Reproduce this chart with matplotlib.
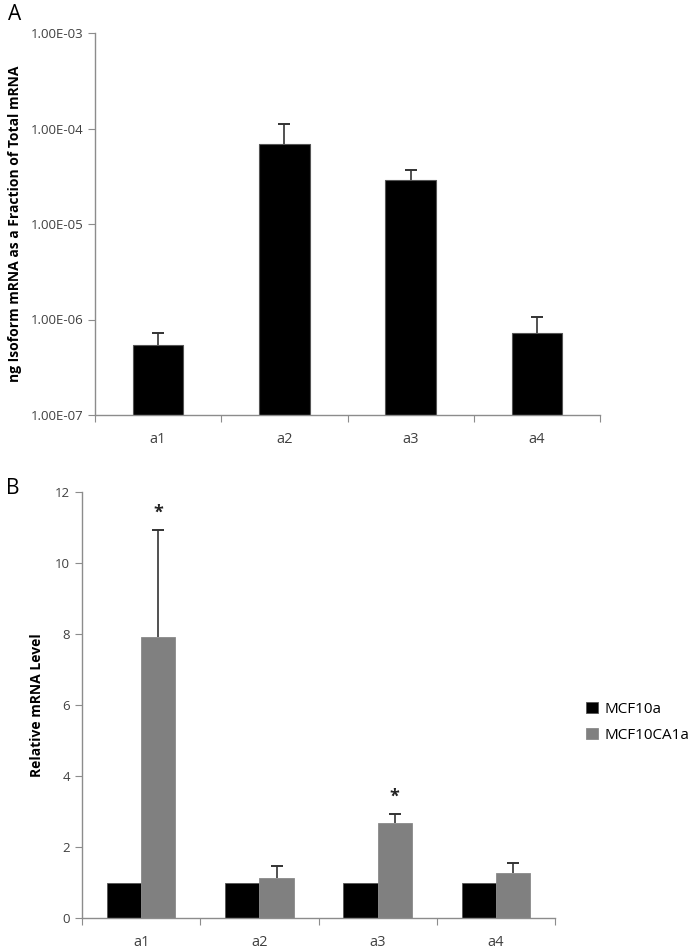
import matplotlib
matplotlib.use('Agg')
import matplotlib.pyplot as plt
import matplotlib.ticker as mticker
import numpy as np

plt.rcParams['font.family'] = ['Open Sans', 'DejaVu Sans']

# panel A: absolute isoform levels
isoforms = ['a1', 'a2', 'a3', 'a4']
frac_mean = [5.4e-7, 6.9e-5, 2.9e-5, 7.2e-7]
frac_err = [1.8e-7, 4.3e-5, 0.8e-5, 3.5e-7]

# panel B: relative levels
lines = ['MCF10a', 'MCF10CA1a']
mcf10a = [1.0, 1.0, 1.0, 1.0]
mcf10ca1a = [7.92, 1.13, 2.68, 1.26]
mcf10ca1a_err = [3.01, 0.33, 0.25, 0.29]
signif = [True, False, True, False]

spine_col = '#8c8c8c'
tick_col = '#404040'


def upper_err(ax, xs, mean, err):
    # only the upper half of the error bar, cap on top only
    mean = np.asarray(mean)
    err = np.asarray(err)
    ax.errorbar(xs, mean, yerr=[np.zeros(len(mean)), err], fmt='none',
                ecolor='#333333', elinewidth=1.2, capsize=0, zorder=1)
    ax.plot(xs, mean + err, linestyle='none', marker='_', markersize=8,
            markeredgewidth=1.4, color='#333333', zorder=1)


fig = plt.figure(figsize=(7.0, 9.49), dpi=100)

# ---- panel A
axA = fig.add_axes([95/700, 1-415/949, 505/700, 382/949])
x = np.arange(len(isoforms))
axA.bar(x, frac_mean, width=0.4, color='black', edgecolor='#555555', linewidth=0.8, zorder=2)
upper_err(axA, x, frac_mean, frac_err)
axA.set_yscale('log')
axA.set_ylim(1e-7, 1e-3)
axA.set_xlim(-0.5, 3.5)
axA.yaxis.set_major_locator(mticker.LogLocator(base=10, numticks=10))
axA.yaxis.set_minor_locator(mticker.NullLocator())
axA.yaxis.set_major_formatter(mticker.FuncFormatter(lambda v, p: '%.2E' % v))
axA.set_ylabel('ng Isoform mRNA as a Fraction of Total mRNA', fontsize=10, fontweight='bold', labelpad=6)

# ---- panel B
axB = fig.add_axes([82/700, 1-918/949, 473/700, 426/949])
w = 0.29
bA = axB.bar(x - w/2, mcf10a, width=w, color='black', edgecolor='#555555', linewidth=0.6, label=lines[0], zorder=2)
bB = axB.bar(x + w/2, mcf10ca1a, width=w, color='#808080', edgecolor='#8a8a8a', linewidth=0.6, label=lines[1], zorder=2)
upper_err(axB, x + w/2, mcf10ca1a, mcf10ca1a_err)
for i in range(len(isoforms)):
    if signif[i]:
        axB.text(x[i] + w/2, mcf10ca1a[i] + mcf10ca1a_err[i] + 0.5, '*', ha='center', va='center',
                 fontsize=13, fontweight='bold', color='#222222')
axB.set_ylim(0, 12)
axB.set_xlim(-0.5, 3.5)
axB.set_yticks(np.arange(0, 13, 2))
axB.set_ylabel('Relative mRNA Level', fontsize=10, fontweight='bold', labelpad=8)

for ax in [axA, axB]:
    for s in ['top', 'right']:
        ax.spines[s].set_visible(False)
    for s in ['left', 'bottom']:
        ax.spines[s].set_color(spine_col)
        ax.spines[s].set_linewidth(1.0)
    ax.set_xticks(np.arange(-0.5, 4.0, 1.0))
    ax.set_xticklabels([])
    ax.set_xticks(x, minor=True)
    ax.set_xticklabels(isoforms, minor=True, fontsize=10.5)
    ax.tick_params(axis='x', which='major', direction='out', length=5, color=spine_col)
    ax.tick_params(axis='x', which='minor', length=0, pad=12, colors=tick_col)
    ax.tick_params(axis='y', direction='out', length=5, color=spine_col, labelcolor=tick_col, labelsize=9.5)

fig.legend(handles=[bA, bB], labels=lines, loc='upper left',
           bbox_to_anchor=(572/700, 1-688/949), frameon=False, fontsize=11,
           handlelength=0.8, handleheight=0.8, handletextpad=0.4, labelspacing=0.7)

fig.text(8/700, 1-15/949, 'A', fontsize=15, va='center', ha='left')
fig.text(6/700, 1-488/949, 'B', fontsize=15, va='center', ha='left')

fig.savefig('out.png', dpi=100)
